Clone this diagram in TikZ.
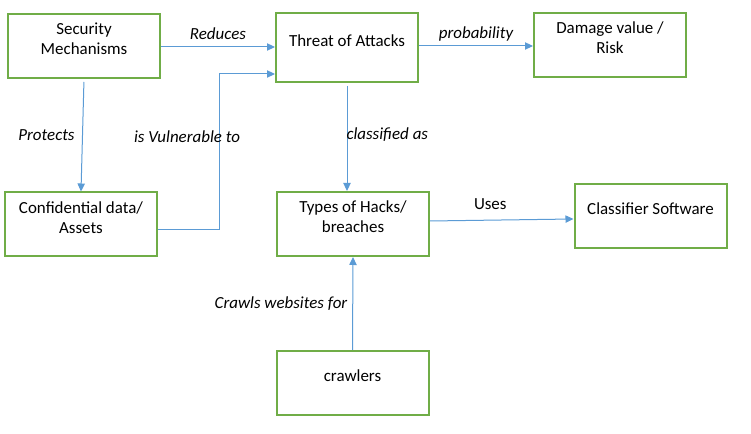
\documentclass[tikz,border=0pt]{standalone}
\usepackage{fontspec}
\setmainfont{Carlito}
\usetikzlibrary{arrows.meta}
\definecolor{boxgreen}{HTML}{70AD47}
\definecolor{linkblue}{HTML}{5B9BD5}
\tikzset{
  box/.style={draw=boxgreen, line width=1.5pt, minimum width=114pt, minimum height=48pt, inner sep=0pt},
  boxtext/.style={align=center, yshift=5.25pt},
  flow/.style={draw=linkblue, line width=0.75pt, -{Triangle[length=6pt, width=5.5pt]}},
  tag/.style={font=\fontsize{12.7}{15}\selectfont\itshape, inner sep=0pt},
}
\begin{document}
\begin{tikzpicture}[x=0.75pt, y=-0.75pt, every node/.style={font=\fontsize{12.7}{15}\selectfont}]
  \useasboundingbox (0,0) rectangle (751,434);
  % boxes
  \node[box, label={[boxtext]center:Security\\Mechanisms}] (security) at (84,46) {};
  \node[box, minimum width=106.5pt, minimum height=51.75pt, label={[boxtext]center:Threat of Attacks}] (threat) at (347,47.5) {};
  \node[box, label={[boxtext]center:Damage value /\\Risk}] (risk) at (610,45) {};
  \node[box, label={[boxtext]center:Confidential data/\\Assets}] (assets) at (81,224.5) {};
  \node[box, label={[boxtext]center:Types of Hacks/\\breaches}] (hacks) at (353,224) {};
  \node[box, label={[boxtext]center:Classifier Software}] (classifier) at (650.5,216) {};
  \node[box, label={[boxtext]center:crawlers}] (crawlers) at (352.5,383) {};
  % connectors
  \draw[flow] (security.east |- 0,47) -- (threat.west |- 0,47) node[tag, midway, anchor=base, yshift=5.25pt]{Reduces};
  \draw[flow] (threat.east |- 0,46) -- (risk.west |- 0,46) node[tag, midway, anchor=base, yshift=5.25pt]{probability};
  \draw[flow, shorten <=2.25pt] (security.south) -- (assets.north) node[tag, midway, left=5.6pt]{Protects};
  \draw[flow] (assets.east |- 0,230) -- (219,230) -- (219,74) node[tag, pos=0.6, xshift=-24pt]{is Vulnerable to} -- (threat.west |- 0,74);
  \draw[flow, shorten <=2.25pt] (threat.south) -- (threat.south |- hacks.north) node[tag, midway, anchor=west, yshift=1.5pt, xshift=-0.75pt]{classified as};
  \draw[flow] (hacks.east |- 0,221) -- (classifier.west |- 0,219) node[pos=0.42, anchor=base, yshift=8.25pt]{Uses};
  \draw[flow] (crawlers.north) -- (hacks.south) node[tag, midway, left=3.75pt]{Crawls websites for};
\end{tikzpicture}
\end{document}
